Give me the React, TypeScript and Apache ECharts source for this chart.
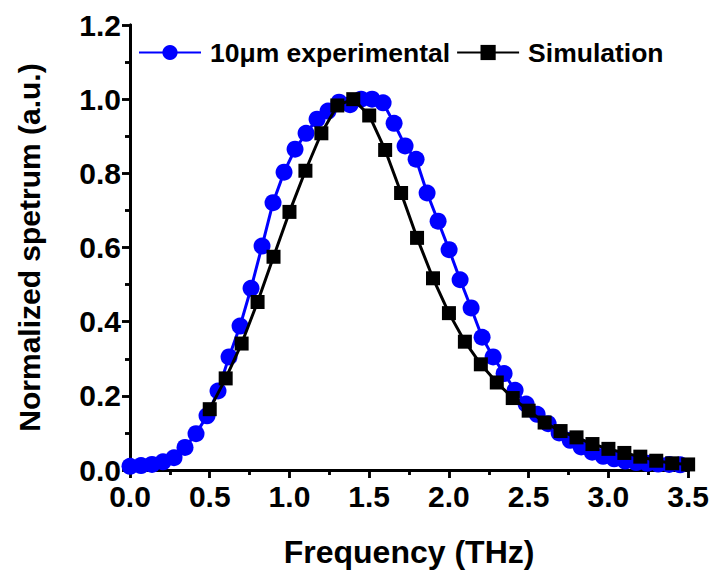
import React, { useEffect, useRef } from "react";
import * as echarts from "echarts";

const expStep = 0.069;
const expValues = [
  0.010, 0.012, 0.015, 0.022, 0.033, 0.061, 0.098, 0.146, 0.213, 0.305,
  0.388, 0.490, 0.604, 0.721, 0.803, 0.865, 0.908, 0.946, 0.968, 0.992,
  0.985, 1.000, 1.000, 0.990, 0.935, 0.874, 0.838, 0.747, 0.671, 0.594,
  0.513, 0.437, 0.358, 0.305, 0.260, 0.215, 0.178, 0.150, 0.125, 0.100,
  0.080, 0.062, 0.048, 0.037, 0.030, 0.024, 0.020, 0.018, 0.016, 0.015,
  0.014,
];

const simFreq = [
  0.5, 0.6, 0.7, 0.8, 0.9, 1.0, 1.1, 1.2, 1.3, 1.4, 1.5, 1.6, 1.7, 1.8, 1.9,
  2.0, 2.1, 2.2, 2.3, 2.4, 2.5, 2.6, 2.7, 2.8, 2.9, 3.0, 3.1, 3.2, 3.3, 3.4, 3.5,
];
const simValues = [
  0.164, 0.247, 0.341, 0.453, 0.575, 0.696, 0.807, 0.908, 0.983, 1.0, 0.956,
  0.863, 0.747, 0.626, 0.517, 0.423, 0.346, 0.285, 0.236, 0.194, 0.160, 0.128,
  0.105, 0.088, 0.070, 0.057, 0.046, 0.036, 0.025, 0.018, 0.015,
];

const seriesNames = ["10μm experimental", "Simulation"];

export default function App() {
  const ref = useRef<HTMLDivElement>(null);
  useEffect(() => {
    if (!ref.current) return;
    const chart = echarts.init(ref.current, null, { renderer: "svg" });
    const font = "'Liberation Sans', Arial, sans-serif";
    const expData = expValues.map((v, i) => [+(i * expStep).toFixed(4), v]);
    const simData = simFreq.map((f, i) => [f, simValues[i]]);
    const axisLine = { show: true, lineStyle: { color: "#000", width: 3 } };
    const tick = (inside: boolean) => ({ show: true, inside, length: 8, lineStyle: { width: 2.5, color: "#000" } });
    const minor = { show: true, splitNumber: 2, length: 5, lineStyle: { width: 2.5, color: "#000" } };
    const label = {
      fontFamily: font,
      fontWeight: "bold",
      fontSize: 30,
      color: "#000",
      formatter: (v: number) => v.toFixed(1),
    };
    chart.setOption({
      animation: false,
      backgroundColor: "#fff",
      grid: { left: 130, right: 22, top: 25, bottom: 100, containLabel: false },
      legend: {
        top: 34,
        left: 133,
        itemWidth: 62,
        itemHeight: 19,
        itemGap: 6,
        textStyle: { fontFamily: font, fontWeight: "bold", fontSize: 26.5, color: "#000", padding: [0, 0, 0, 4] },
        data: seriesNames,
      },
      xAxis: [
        {
          type: "value",
          min: 0,
          max: 3.5,
          interval: 0.5,
          position: "bottom",
          axisLine,
          axisTick: tick(false),
          minorTick: minor,
          splitLine: { show: false },
          axisLabel: { ...label, margin: 11 },
          name: "Frequency (THz)",
          nameLocation: "middle",
          nameGap: 66,
          nameTextStyle: { fontFamily: font, fontWeight: "bold", fontSize: 32, color: "#000" },
        },
        {
          type: "value",
          min: 0,
          max: 3.5,
          interval: 0.5,
          position: "top",
          axisLine,
          axisTick: tick(true),
          minorTick: minor,
          splitLine: { show: false },
          axisLabel: { show: false },
        },
      ],
      yAxis: [
        {
          type: "value",
          min: 0,
          max: 1.2,
          interval: 0.2,
          position: "left",
          axisLine,
          axisTick: tick(false),
          minorTick: minor,
          splitLine: { show: false },
          axisLabel: { ...label, margin: 9 },
          name: "Normalized spetrum (a.u.)",
          nameLocation: "middle",
          nameGap: 86,
          nameTextStyle: { fontFamily: font, fontWeight: "bold", fontSize: 30, color: "#000" },
        },
        {
          type: "value",
          min: 0,
          max: 1.2,
          interval: 0.2,
          position: "right",
          axisLine,
          axisTick: tick(true),
          minorTick: minor,
          splitLine: { show: false },
          axisLabel: { show: false },
        },
      ],
      series: [
        {
          name: seriesNames[0],
          type: "line",
          data: expData,
          symbol: "circle",
          symbolSize: 17,
          showAllSymbol: true,
          clip: false,
          itemStyle: { color: "#0000ff" },
          lineStyle: { color: "#0000ff", width: 3 },
          z: 2,
        },
        {
          name: seriesNames[1],
          type: "line",
          data: simData,
          symbol: "rect",
          symbolSize: 14,
          showAllSymbol: true,
          clip: false,
          itemStyle: { color: "#000" },
          lineStyle: { color: "#000", width: 3 },
          z: 3,
        },
      ],
    });
    return () => chart.dispose();
  }, []);
  return <div ref={ref} style={{ width: 712, height: 573, position: "absolute", left: 0, top: 0 }} />;
}
